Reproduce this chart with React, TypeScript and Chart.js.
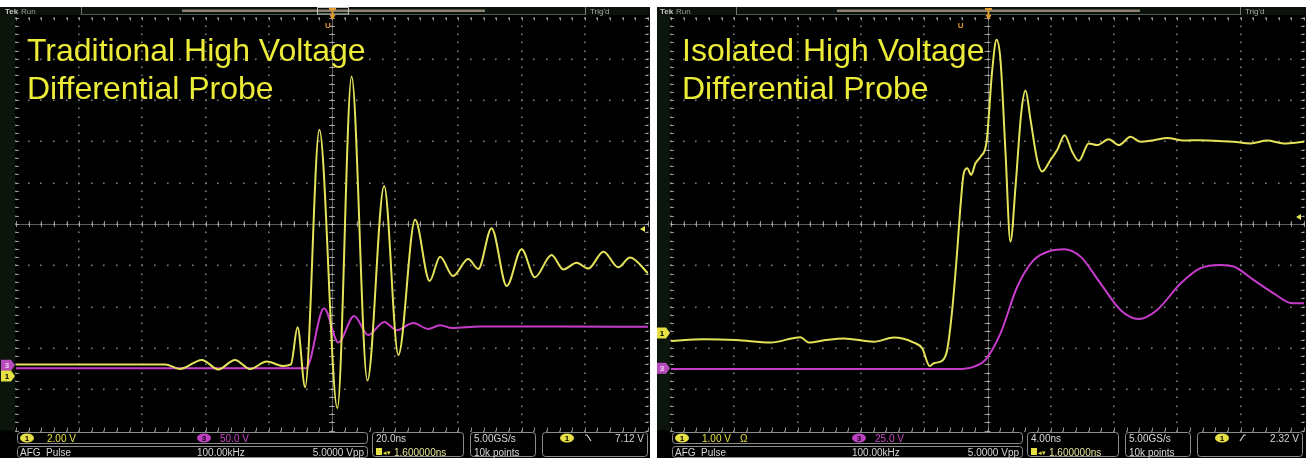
import React, { useEffect, useRef } from "react";
import { Chart, registerables } from "chart.js";

Chart.register(...registerables);

// ---- Traditional HV differential probe capture: 20 ns/div, values in divisions ----
const tradCh1Time = [
  -100, -52.8, -48.1, -41.2, -36.0, -30.7, -25.9, -20.7, -15.4, -13.0,
  -10.9, -8.5, -4.0, 1.7, 6.2, 11.2, 16.5, 21.0, 26.3, 30.9,
  34.2, 38.3, 43.1, 46.3, 50.5, 55.3, 60.0, 64.2, 69.5, 73.2,
  77.4, 81.1, 85.9, 90.6, 94.3, 100,
];
const tradCh1Div = [
  -3.4, -3.4, -3.51, -3.29, -3.52, -3.29, -3.51, -3.33, -3.44, -3.4,
  -2.5, -3.95, 2.28, -4.46, 3.57, -3.79, 0.92, -3.17, 0.1, -1.38,
  -0.79, -1.26, -0.85, -1.09, -0.1, -1.5, -0.61, -1.29, -0.75, -1.1,
  -0.94, -1.08, -0.67, -1.05, -0.81, -1.19,
];
const tradCh3Time = [-100, -8.2, -2.5, 2.0, 7.0, 11.5, 16.5, 20.5, 25.7, 30.4, 34.2, 38.0, 46.8, 72.2, 100];
const tradCh3Div = [-3.49, -3.49, -2.04, -2.87, -2.23, -2.69, -2.37, -2.57, -2.4, -2.54, -2.45, -2.52, -2.48, -2.48, -2.49];

// ---- Isolated HV differential probe capture: 4 ns/div, values in divisions ----
const isoCh1Time = [
  -20, -17.93, -15.86, -13.71, -11.82, -11.29, -10.24, -9.08, -7.18, -5.92,
  -4.66, -4.13, -3.65, -3.39, -2.86, -2.55, -2.23, -1.91, -1.71, -1.5,
  -1.28, -1.03, -0.76, -0.44, -0.06, 0.3, 0.57, 0.82, 1.14, 1.45,
  1.77, 2.13, 2.4, 2.72, 3.14, 3.46, 3.98, 4.4, 4.87, 5.35,
  5.77, 6.4, 6.93, 7.66, 8.3, 9.04, 9.67, 10.51, 11.36, 12.4,
  13.46, 15.56, 16.62, 17.67, 18.72, 20,
];
const isoCh1Div = [
  -2.83, -2.79, -2.81, -2.87, -2.74, -2.87, -2.81, -2.77, -2.85, -2.75,
  -2.87, -3.01, -3.44, -3.37, -3.31, -3.05, -2.08, -0.63, 0.42, 1.23,
  1.35, 1.19, 1.47, 1.63, 1.99, 3.73, 4.46, 3.97, 1.71, -0.43,
  0.9, 2.68, 3.23, 2.52, 1.55, 1.27, 1.55, 1.79, 2.15, 1.75,
  1.53, 1.95, 1.91, 2.05, 1.91, 2.11, 1.99, 2.03, 2.08, 2.02,
  2.03, 1.99, 1.95, 2.02, 1.95, 1.99,
];
const isoCh3Time = [
  -20, -1.58, -0.76, -0.13, 0.82, 1.88, 2.93, 3.98, 4.82, 5.88,
  7.14, 8.4, 9.56, 10.72, 12.2, 13.46, 14.72, 15.56, 16.83, 18.09,
  19.15, 20,
];
const isoCh3Div = [
  -3.51, -3.51, -3.44, -3.29, -2.65, -1.52, -0.87, -0.65, -0.61, -0.79,
  -1.44, -2.08, -2.3, -2.08, -1.44, -1.07, -0.99, -1.03, -1.36, -1.68,
  -1.91, -1.92,
];

// Channel ground markers [CH1, CH3], trigger level (div) and trigger point (ns)
const tradGrounds = [-3.68, -3.42];
const isoGrounds = [-2.64, -3.49];
const tradTrigger = [-0.12, -1.3];
const isoTrigger = [0.17, -1.7];

// Text shown on screen
const tradTitle = ["Traditional High Voltage", "Differential Probe"];
const isoTitle = ["Isolated High Voltage", "Differential Probe"];
const tradChannelLabels = ["2.00 V", "50.0 V"];
const isoChannelLabels = ["1.00 V", "25.0 V"];
const afgLabels = ["AFG  Pulse", "100.00kHz", "5.0000 Vpp"];
const tradTimebase = ["20.0ns", "1.600000ns"];
const isoTimebase = ["4.00ns", "1.600000ns"];
const acqLabels = ["5.00GS/s", "10k points"];
const tradTrigValue = "7.12 V";
const isoTrigValue = "2.32 V";

const H = 458;
const GRID_TOP = 17.5;
const GRID_BOTTOM = 430.5;
const YELLOW = "#e4e35a";
const MAGENTA = "#c83ccc";
const TEXT_YELLOW = "#ecec38";
const ORANGE = "#e39a2c";
const FONT = '"Liberation Sans", Arial, sans-serif';

type Panel = {
  pageX: number;
  width: number;
  gridLeft: number;
  gridRight: number;
  nsPerDiv: number;
  title: string[];
  ch1Time: number[];
  ch1Div: number[];
  ch3Time: number[];
  ch3Div: number[];
  grounds: number[];
  trigger: number[];
  chLabels: string[];
  ch1Extra: string;
  timebase: string[];
  slope: "fall" | "rise";
  trigValue: string;
  bracket: boolean;
};

const panels: Panel[] = [
  {
    pageX: 0, width: 650, gridLeft: 16, gridRight: 648, nsPerDiv: 20,
    title: tradTitle,
    ch1Time: tradCh1Time, ch1Div: tradCh1Div, ch3Time: tradCh3Time, ch3Div: tradCh3Div,
    grounds: tradGrounds, trigger: tradTrigger, chLabels: tradChannelLabels, ch1Extra: "",
    timebase: tradTimebase, slope: "fall", trigValue: tradTrigValue, bracket: true,
  },
  {
    pageX: 657, width: 649, gridLeft: 14, gridRight: 647, nsPerDiv: 4,
    title: isoTitle,
    ch1Time: isoCh1Time, ch1Div: isoCh1Div, ch3Time: isoCh3Time, ch3Div: isoCh3Div,
    grounds: isoGrounds, trigger: isoTrigger, chLabels: isoChannelLabels, ch1Extra: "Ω",
    timebase: isoTimebase, slope: "rise", trigValue: isoTrigValue, bracket: false,
  },
];

function roundBox(ctx: CanvasRenderingContext2D, x: number, y: number, w: number, h: number, r: number) {
  ctx.beginPath();
  ctx.moveTo(x + r, y);
  ctx.lineTo(x + w - r, y);
  ctx.quadraticCurveTo(x + w, y, x + w, y + r);
  ctx.lineTo(x + w, y + h - r);
  ctx.quadraticCurveTo(x + w, y + h, x + w - r, y + h);
  ctx.lineTo(x + r, y + h);
  ctx.quadraticCurveTo(x, y + h, x, y + h - r);
  ctx.lineTo(x, y + r);
  ctx.quadraticCurveTo(x, y, x + r, y);
  ctx.closePath();
  ctx.fillStyle = "#000";
  ctx.fill();
  ctx.strokeStyle = "#8c8c8c";
  ctx.lineWidth = 1;
  ctx.stroke();
}

function badge(ctx: CanvasRenderingContext2D, cx: number, cy: number, fill: string, label: string) {
  ctx.beginPath();
  ctx.ellipse(cx, cy, 7, 4.6, 0, 0, Math.PI * 2);
  ctx.fillStyle = fill;
  ctx.fill();
  ctx.fillStyle = "#000";
  ctx.font = `bold 8px ${FONT}`;
  ctx.textAlign = "center";
  ctx.textBaseline = "middle";
  ctx.fillText(label, cx, cy + 0.5);
  ctx.textAlign = "left";
  ctx.textBaseline = "alphabetic";
}

function buildChart(canvas: HTMLCanvasElement, p: Panel) {
  const pts = (t: number[], v: number[]) => t.map((x, i) => ({ x, y: v[i] }));

  const scopeFrame = {
    id: "scopeFrame",
    beforeDraw(chart: any) {
      const { ctx, width, height, chartArea } = chart;
      const { left } = chartArea;
      const ox = left - 16;
      ctx.save();
      ctx.fillStyle = "#fff";
      ctx.fillRect(0, 0, width, height);
      ctx.fillStyle = "#000";
      ctx.fillRect(0, 7, width, height - 7);
      // channel marker strip
      ctx.fillStyle = "#0b150c";
      ctx.fillRect(0, 15, left - 1, GRID_BOTTOM - 15);
      // top status bar
      ctx.fillStyle = "#0a120b";
      ctx.fillRect(0, 7, width, 8);
      ctx.font = `bold 8px ${FONT}`;
      ctx.fillStyle = "#c8c8c8";
      ctx.fillText("Tek", ox + 5, 14);
      ctx.font = `8px ${FONT}`;
      ctx.fillStyle = "#9a9a9a";
      ctx.fillText("Run", ox + 21, 14);
      ctx.fillStyle = "#777";
      ctx.fillRect(ox + 81, 7, 1, 8);
      ctx.fillRect(ox + 585, 7, 1, 8);
      ctx.fillStyle = "#4f5a50";
      ctx.fillRect(ox + 82, 14, 503, 1);
      ctx.fillStyle = "#8c8270";
      ctx.fillRect(ox + 182, 9.5, 303, 2.5);
      if (p.bracket) {
        ctx.strokeStyle = "#c4c4c4";
        ctx.lineWidth = 1;
        ctx.strokeRect(ox + 317.5, 7.5, 31, 6.5);
      }
      ctx.fillStyle = "#a8a8a8";
      ctx.fillText("Trig'd", ox + 590, 14);
      ctx.restore();
    },
    beforeDatasetsDraw(chart: any) {
      const { ctx, chartArea } = chart;
      const { left, right, top, bottom } = chartArea;
      const xs = chart.scales.x;
      const ys = chart.scales.y;
      const xMin = -5 * p.nsPerDiv;
      const sub = p.nsPerDiv / 5;
      ctx.save();
      ctx.fillStyle = "#7e7e7e";
      // dotted division lines
      for (let i = 0; i <= 10; i++) {
        const x = xs.getPixelForValue(xMin + i * p.nsPerDiv);
        for (let j = 0; j <= 50; j++) {
          const y = ys.getPixelForValue(-5 + j * 0.2);
          ctx.fillRect(Math.round(x) - 1, Math.round(y) - 0.5, 1.6, 1.6);
        }
      }
      for (let j = 0; j <= 10; j++) {
        const y = ys.getPixelForValue(-5 + j);
        for (let i = 0; i <= 50; i++) {
          const x = xs.getPixelForValue(xMin + i * sub);
          ctx.fillRect(Math.round(x) - 1, Math.round(y) - 0.5, 1.6, 1.6);
        }
      }
      // centre cross lines with sub-division ticks
      const cx = xs.getPixelForValue(0);
      const cy = ys.getPixelForValue(0);
      ctx.strokeStyle = "rgba(170,170,170,0.55)";
      ctx.lineWidth = 1;
      ctx.beginPath();
      ctx.moveTo(left, Math.round(cy) + 0.5);
      ctx.lineTo(right, Math.round(cy) + 0.5);
      ctx.moveTo(Math.round(cx) + 0.5, top);
      ctx.lineTo(Math.round(cx) + 0.5, bottom);
      ctx.stroke();
      ctx.strokeStyle = "rgba(190,190,190,0.75)";
      ctx.beginPath();
      for (let i = 0; i <= 50; i++) {
        const x = Math.round(xs.getPixelForValue(xMin + i * sub)) + 0.5;
        ctx.moveTo(x, cy - 3);
        ctx.lineTo(x, cy + 3);
        ctx.moveTo(x, top);
        ctx.lineTo(x, top + 3);
        ctx.moveTo(x, bottom - 3);
        ctx.lineTo(x, bottom);
      }
      for (let j = 0; j <= 50; j++) {
        const y = Math.round(ys.getPixelForValue(-5 + j * 0.2)) + 0.5;
        ctx.moveTo(cx - 3, y);
        ctx.lineTo(cx + 3, y);
        ctx.moveTo(left, y);
        ctx.lineTo(left + 3, y);
        ctx.moveTo(right - 3, y);
        ctx.lineTo(right, y);
      }
      ctx.stroke();
      // probe caption
      ctx.fillStyle = TEXT_YELLOW;
      ctx.font = `32px ${FONT}`;
      ctx.fillText(p.title[0], left + 11, 61);
      ctx.fillText(p.title[1], left + 11, 99);
      ctx.restore();
    },
    afterDraw(chart: any) {
      const { ctx, chartArea } = chart;
      const { left, right } = chartArea;
      const xs = chart.scales.x;
      const ys = chart.scales.y;
      const ox = left - 16;
      ctx.save();

      // trigger position "T" and expansion point
      const tx = Math.round(xs.getPixelForValue(0));
      ctx.fillStyle = ORANGE;
      ctx.fillRect(tx - 3, 8, 7, 2);
      ctx.fillRect(tx - 0.5, 8, 2, 10);
      ctx.beginPath();
      ctx.moveTo(tx - 2.5, 15);
      ctx.lineTo(tx + 3.5, 15);
      ctx.lineTo(tx + 0.5, 20);
      ctx.closePath();
      ctx.fill();
      const ux = xs.getPixelForValue(p.trigger[1]);
      ctx.font = `bold 8px ${FONT}`;
      ctx.textAlign = "center";
      ctx.fillText("U", ux, 28);
      ctx.textAlign = "left";

      // trigger level marker on the right edge
      const ty = ys.getPixelForValue(p.trigger[0]);
      ctx.fillStyle = YELLOW;
      ctx.beginPath();
      ctx.moveTo(right - 8, ty);
      ctx.lineTo(right - 3, ty - 3);
      ctx.lineTo(right - 3, ty + 3);
      ctx.closePath();
      ctx.fill();

      // channel ground markers
      const tag = (val: number, fill: string, label: string, textColor: string) => {
        const y = ys.getPixelForValue(val);
        const x0 = left - 15;
        ctx.beginPath();
        ctx.moveTo(x0, y - 5.5);
        ctx.lineTo(x0 + 10, y - 5.5);
        ctx.lineTo(x0 + 14, y);
        ctx.lineTo(x0 + 10, y + 5.5);
        ctx.lineTo(x0, y + 5.5);
        ctx.closePath();
        ctx.fillStyle = fill;
        ctx.fill();
        ctx.fillStyle = textColor;
        ctx.font = `bold 8px ${FONT}`;
        ctx.textAlign = "center";
        ctx.textBaseline = "middle";
        ctx.fillText(label, x0 + 6, y + 0.5);
        ctx.textAlign = "left";
        ctx.textBaseline = "alphabetic";
      };
      tag(p.grounds[1], "#b84cbc", "3", "#f0d0f0");
      tag(p.grounds[0], "#e6e044", "1", "#000");

      // bottom readouts
      const sFont = `10px ${FONT}`;
      roundBox(ctx, ox + 17.5, 432.5, 350, 11, 3);
      roundBox(ctx, ox + 17.5, 446.5, 350, 11, 3);
      badge(ctx, ox + 27, 438, "#e6e044", "1");
      ctx.font = sFont;
      ctx.fillStyle = "#e6e044";
      ctx.fillText(p.chLabels[0], ox + 47, 442);
      if (p.ch1Extra) ctx.fillText(p.ch1Extra, ox + 85, 442);
      badge(ctx, ox + 204, 438, "#c040c4", "3");
      ctx.font = sFont;
      ctx.fillStyle = "#cc44cc";
      ctx.fillText(p.chLabels[1], ox + 220, 442);
      ctx.fillStyle = "#d6d6d6";
      ctx.fillText(afgLabels[0], ox + 20, 456);
      ctx.fillText(afgLabels[1], ox + 197, 456);
      ctx.textAlign = "right";
      ctx.fillText(afgLabels[2], ox + 364, 456);
      ctx.textAlign = "left";

      roundBox(ctx, ox + 372.5, 432.5, 91, 24, 3);
      ctx.font = sFont;
      ctx.fillStyle = "#d6d6d6";
      ctx.fillText(p.timebase[0], ox + 376, 442);
      ctx.fillStyle = "#e6e044";
      ctx.fillRect(ox + 376, 448, 6, 7);
      ctx.font = `7px ${FONT}`;
      ctx.fillText("◂▾", ox + 383, 455);
      ctx.font = sFont;
      ctx.fillStyle = "#e2e29a";
      ctx.fillText(p.timebase[1], ox + 394, 456);

      roundBox(ctx, ox + 470.5, 432.5, 65, 24, 3);
      ctx.font = sFont;
      ctx.fillStyle = "#d6d6d6";
      ctx.fillText(acqLabels[0], ox + 474, 442);
      ctx.fillText(acqLabels[1], ox + 474, 456);

      roundBox(ctx, ox + 542.5, 432.5, 105, 24, 3);
      badge(ctx, ox + 567, 438, "#e6e044", "1");
      ctx.strokeStyle = "#d6d6d6";
      ctx.lineWidth = 1.2;
      ctx.beginPath();
      if (p.slope === "fall") {
        ctx.moveTo(ox + 585, 435);
        ctx.lineTo(ox + 587, 435);
        ctx.lineTo(ox + 591, 441);
      } else {
        ctx.moveTo(ox + 585, 441);
        ctx.lineTo(ox + 589, 435);
        ctx.lineTo(ox + 591, 435);
      }
      ctx.stroke();
      ctx.font = sFont;
      ctx.fillStyle = "#d6d6d6";
      ctx.textAlign = "right";
      ctx.fillText(p.trigValue, ox + 644, 442);
      ctx.textAlign = "left";
      ctx.restore();
    },
  };

  return new Chart(canvas, {
    type: "line",
    data: {
      datasets: [
        {
          label: "CH1",
          data: pts(p.ch1Time, p.ch1Div),
          borderColor: YELLOW,
          borderWidth: 2,
          pointRadius: 0,
          fill: false,
          tension: 0.4,
          cubicInterpolationMode: "monotone",
        },
        {
          label: "CH3",
          data: pts(p.ch3Time, p.ch3Div),
          borderColor: MAGENTA,
          borderWidth: 2,
          pointRadius: 0,
          fill: false,
          tension: 0.4,
          cubicInterpolationMode: "monotone",
        },
      ],
    },
    options: {
      animation: false,
      responsive: false,
      maintainAspectRatio: false,
      events: [],
      layout: {
        padding: {
          left: p.gridLeft,
          right: p.width - p.gridRight,
          top: GRID_TOP,
          bottom: H - GRID_BOTTOM,
        },
      },
      scales: {
        x: { type: "linear", min: -5 * p.nsPerDiv, max: 5 * p.nsPerDiv, display: false },
        y: { type: "linear", min: -5, max: 5, display: false },
      },
      plugins: {
        legend: { display: false },
        tooltip: { enabled: false },
        title: { display: false },
      },
    },
    plugins: [scopeFrame],
  } as any);
}

function ScopePanel({ panel }: { panel: Panel }) {
  const ref = useRef<HTMLCanvasElement | null>(null);
  useEffect(() => {
    if (!ref.current) return;
    const chart = buildChart(ref.current, panel);
    return () => chart.destroy();
  }, [panel]);
  return (
    <canvas
      ref={ref}
      width={panel.width}
      height={H}
      style={{ position: "absolute", left: panel.pageX, top: 0, width: panel.width, height: H }}
    />
  );
}

export default function App() {
  useEffect(() => {
    document.body.style.margin = "0";
  }, []);
  return (
    <div style={{ position: "absolute", left: 0, top: 0, width: 1306, height: H, background: "#fff", overflow: "hidden" }}>
      {panels.map((p, i) => (
        <ScopePanel key={i} panel={p} />
      ))}
    </div>
  );
}
